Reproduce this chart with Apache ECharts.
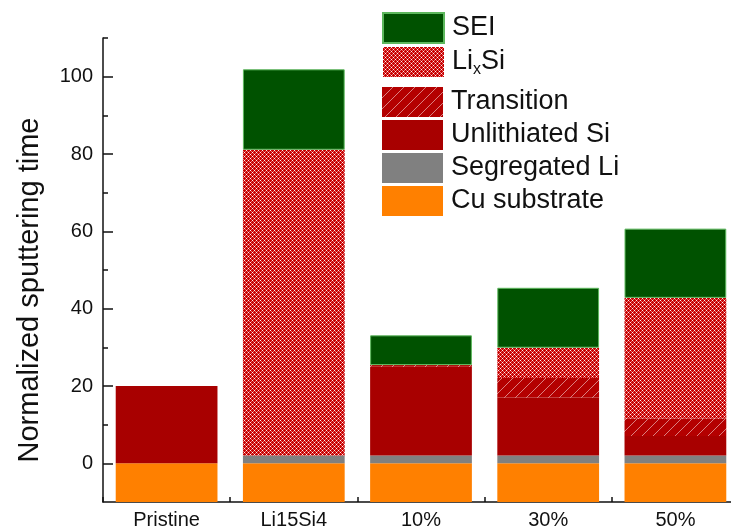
<!DOCTYPE html>
<html>
<head>
<meta charset="utf-8">
<script src="https://cdn.jsdelivr.net/npm/echarts@6/dist/echarts.min.js"></script>
<style>
  html, body { margin: 0; padding: 0; background: #fff; }
  #chart { width: 731px; height: 528px; }
</style>
</head>
<body>
<div id="chart"></div>
<script>
// Samples along the x axis
const categories = ['Pristine', 'Li15Si4', '10%', '30%', '50%'];

// Layer thicknesses (normalized sputtering time), stacked bottom to top
const cuSubstrate   = [-10, -10, -10, -10, -10];
const segregatedLi  = [0, 2, 2, 2, 2];
const unlithiatedSi = [20, 0, 23, 15, 5.1];
const transition    = [0, 0, 0.4, 5.1, 4.5];
const lixSi         = [0, 79.1, 0, 7.8, 31.2];
const sei           = [0, 20.8, 7.7, 15.5, 17.9];

// Y axis ticks
const majorTicks = [0, 20, 40, 60, 80, 100];
const minorTicks = [10, 30, 50, 70, 90, 110];

const FONT = 'Arial, "Liberation Sans", sans-serif';

// Cross-hatch fill for the LixSi layer
function crossHatch() {
  const n = 4;
  const c = document.createElement('canvas');
  c.width = n; c.height = n;
  const ctx = c.getContext('2d');
  const img = ctx.createImageData(n, n);
  for (let y = 0; y < n; y++) {
    for (let x = 0; x < n; x++) {
      const a = (x + y) % n === 0;
      const b = ((x - y) % n + n) % n === 0;
      let col = [200, 0, 0];
      if (a && b) col = [255, 240, 240];
      else if (a || b) col = [228, 110, 110];
      const i = (y * n + x) * 4;
      img.data[i] = col[0]; img.data[i + 1] = col[1]; img.data[i + 2] = col[2]; img.data[i + 3] = 255;
    }
  }
  ctx.putImageData(img, 0, 0);
  return c;
}

// Diagonal hatch fill for the transition layer
function diagonalHatch() {
  const n = 11;
  const c = document.createElement('canvas');
  c.width = n; c.height = n;
  const ctx = c.getContext('2d');
  ctx.fillStyle = '#b40000';
  ctx.fillRect(0, 0, n, n);
  ctx.strokeStyle = 'rgba(255,255,255,0.5)';
  ctx.lineWidth = 1;
  for (const off of [-n, 0, n]) {
    ctx.beginPath();
    ctx.moveTo(off, n);
    ctx.lineTo(off + n, 0);
    ctx.stroke();
  }
  return c;
}

const lixSiFill = { image: crossHatch(), repeat: 'repeat' };
const transitionFill = { image: diagonalHatch(), repeat: 'repeat' };

function nz(arr) { return arr.map(v => (v === 0 ? '-' : v)); }

const chart = echarts.init(document.getElementById('chart'), null, { renderer: 'canvas' });

const barBase = { type: 'bar', stack: 'layers', barWidth: '80%', xAxisIndex: 0, yAxisIndex: 0 };

const legendText = {
  fontFamily: FONT,
  fontSize: 27,
  color: '#111',
  padding: [0, 0, 0, 3],
  rich: {
    sub: { fontFamily: FONT, fontSize: 16, color: '#111', padding: [16, 0, 0, 0] }
  }
};

const legendBase = {
  orient: 'vertical', left: 377,
  padding: 5,
  itemWidth: 61, itemHeight: 30, itemGap: 3,
  selectedMode: false,
  icon: 'rect',
  textStyle: legendText
};

chart.setOption({
  animation: false,
  backgroundColor: '#fff',
  // the plot area runs past the right edge of the canvas
  grid: { left: 103, top: 38, width: 636, height: 464, containLabel: false, outerBoundsMode: 'none' },
  legend: [
    Object.assign({}, legendBase, {
      data: ['SEI', 'LixSi'],
      top: 7,
      formatter: name => (name === 'LixSi' ? 'Li{sub|x}Si' : name)
    }),
    Object.assign({}, legendBase, {
      data: ['Transition', 'Unlithiated Si', 'Segregated Li', 'Cu substrate'],
      top: 82
    })
  ],
  xAxis: {
    type: 'category',
    data: categories,
    axisLine: { onZero: false, lineStyle: { color: '#111', width: 1.5 } },
    axisTick: { show: true, inside: true, length: 5, alignWithLabel: false, lineStyle: { color: '#111', width: 1.5 } },
    axisLabel: { fontFamily: FONT, fontSize: 20, color: '#111', margin: 8 },
    splitLine: { show: false }
  },
  yAxis: [
    {
      type: 'value',
      min: -10, max: 110, interval: 10,
      axisLine: { show: true, lineStyle: { color: '#111', width: 1.5 } },
      axisTick: { show: true, inside: true, length: 10, customValues: majorTicks, lineStyle: { color: '#111', width: 1.5 } },
      axisLabel: { fontFamily: FONT, fontSize: 20, color: '#111', margin: 10, customValues: majorTicks },
      splitLine: { show: false }
    },
    {
      type: 'value',
      min: -10, max: 110, interval: 10,
      position: 'left',
      axisLine: { show: false },
      axisTick: { show: true, inside: true, length: 5, customValues: minorTicks, lineStyle: { color: '#111', width: 1.5 } },
      axisLabel: { show: false },
      splitLine: { show: false }
    }
  ],
  series: [
    Object.assign({}, barBase, { name: 'Cu substrate', data: cuSubstrate, itemStyle: { color: '#ff8000' } }),
    Object.assign({}, barBase, { name: 'Segregated Li', data: nz(segregatedLi), itemStyle: { color: '#808080' } }),
    Object.assign({}, barBase, { name: 'Unlithiated Si', data: nz(unlithiatedSi), itemStyle: { color: '#a80000' } }),
    Object.assign({}, barBase, { name: 'Transition', data: nz(transition), itemStyle: { color: transitionFill } }),
    Object.assign({}, barBase, { name: 'LixSi', data: nz(lixSi), itemStyle: { color: lixSiFill } }),
    Object.assign({}, barBase, { name: 'SEI', data: nz(sei), itemStyle: { color: '#005200', borderColor: '#5db85d', borderWidth: 1 } })
  ],
  graphic: [
    {
      type: 'text',
      x: 30, y: 290,
      rotation: Math.PI / 2,
      style: {
        text: 'Normalized sputtering time',
        fontFamily: FONT,
        fontSize: 29,
        fill: '#111',
        align: 'center',
        verticalAlign: 'middle'
      }
    }
  ]
});
</script>
</body>
</html>
